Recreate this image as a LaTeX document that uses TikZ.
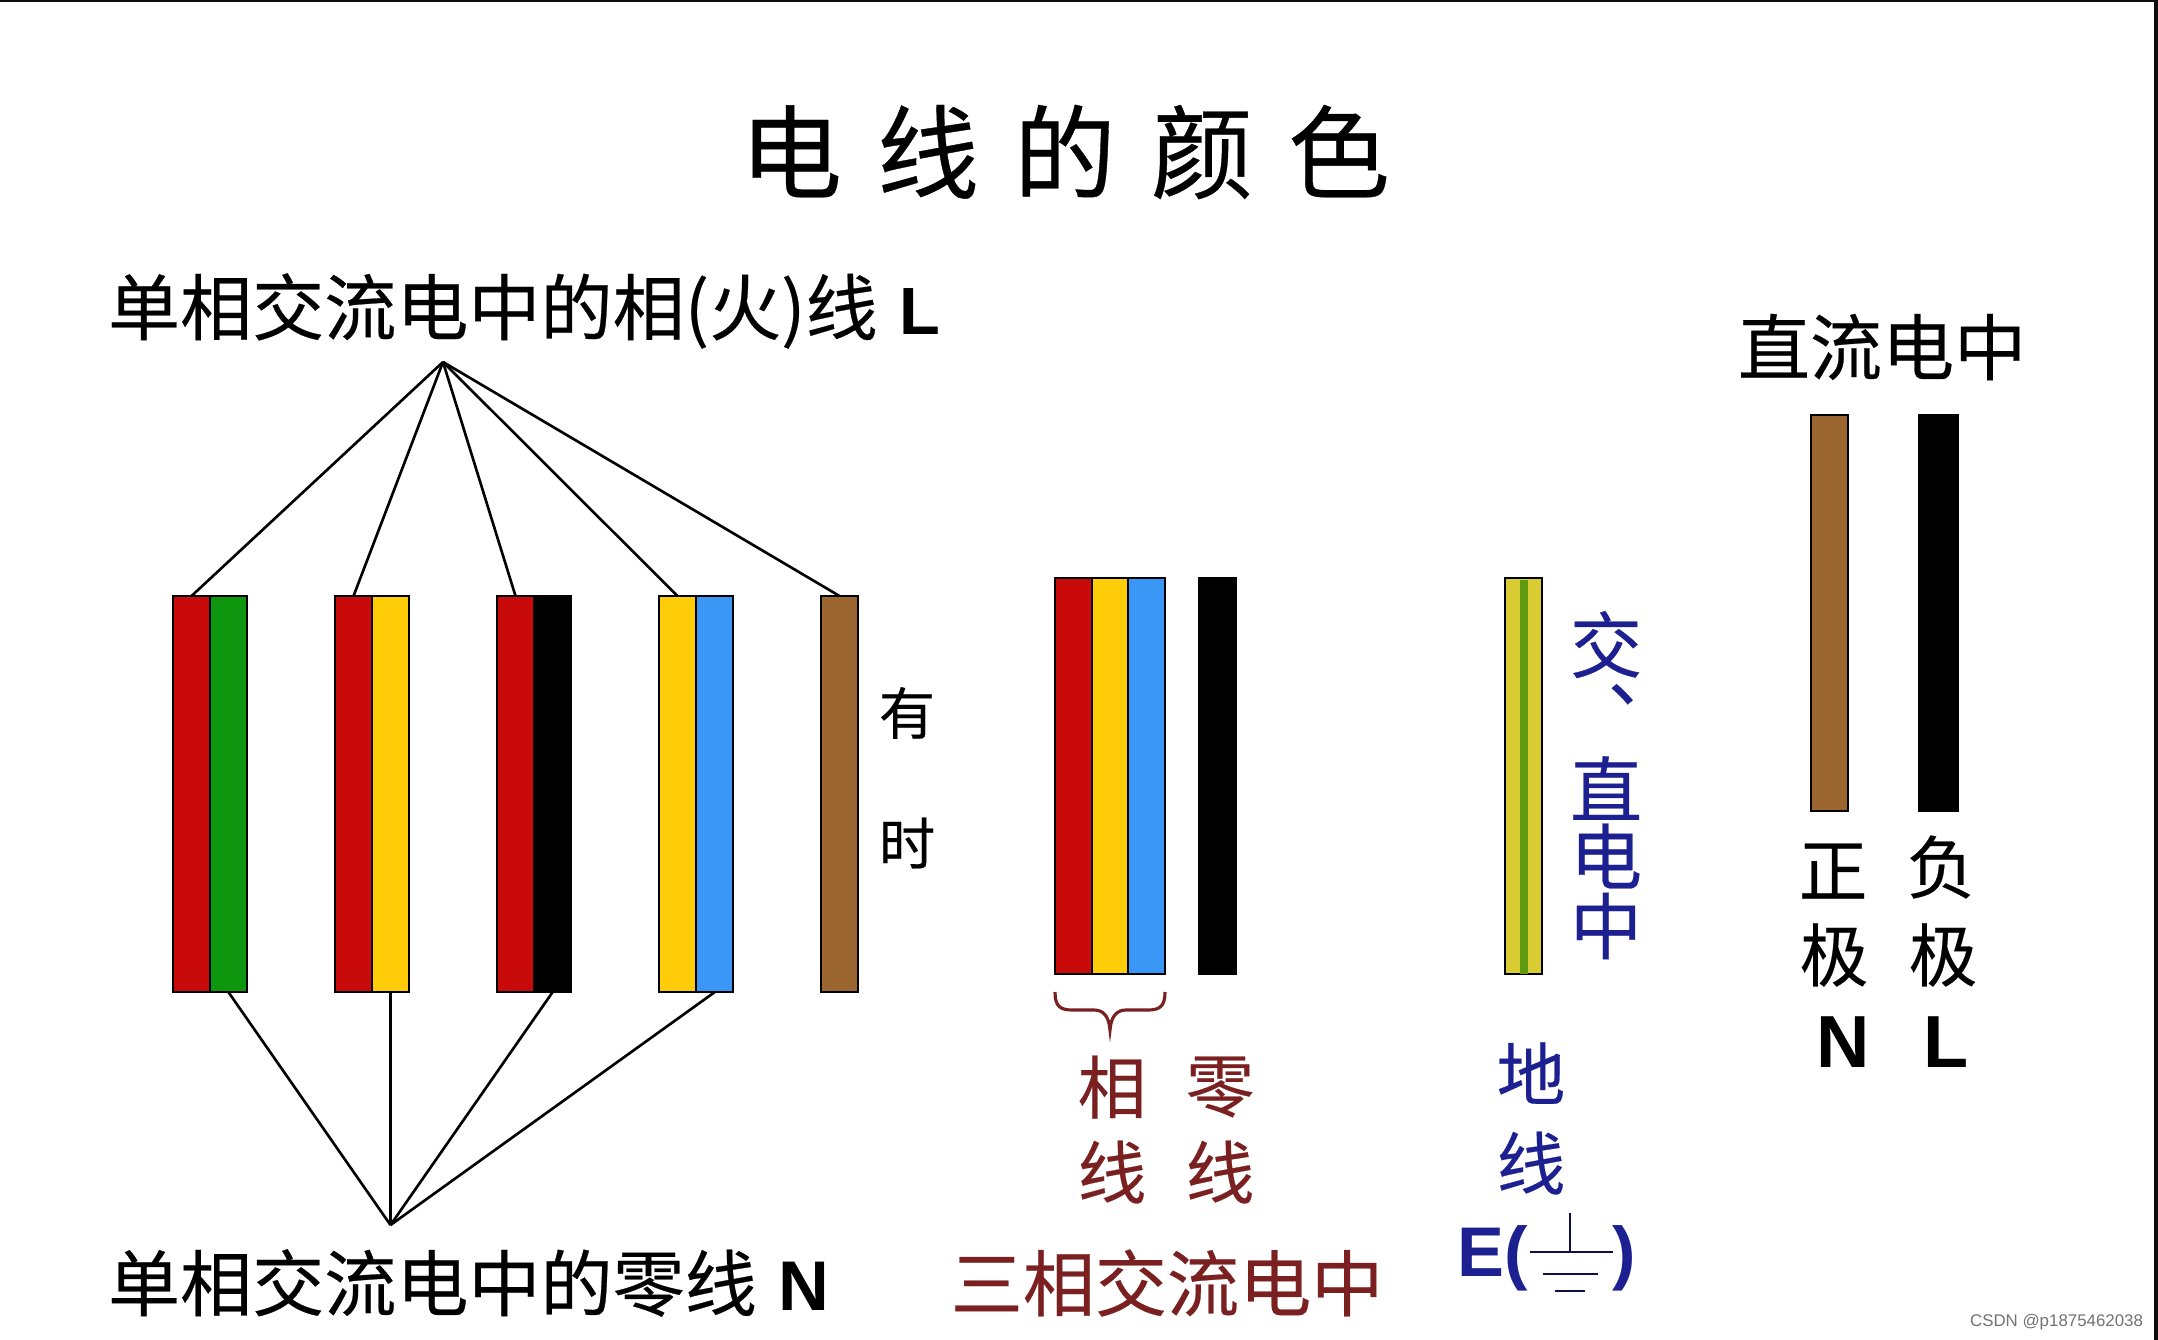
\documentclass[tikz,border=0pt]{standalone}
\usepackage{fontspec}
\setmainfont[FakeBold=0.35]{Noto Sans CJK SC}
\setsansfont{Liberation Sans}
\usepackage{xcolor}

\definecolor{wirered}{HTML}{C80A0A}
\definecolor{wiregreen}{HTML}{0F960F}
\definecolor{wireyellow}{HTML}{FFCC08}
\definecolor{wireblue}{HTML}{3A97F5}
\definecolor{wirebrown}{HTML}{9C6630}
\definecolor{earthyellow}{HTML}{D9CC33}
\definecolor{earthgreen}{HTML}{5E9A10}
\definecolor{labelred}{HTML}{7A2020}
\definecolor{labelblue}{HTML}{1C2090}

\tikzset{
    wire/.style={draw=black, line width=0.7pt, anchor=north west, inner sep=0pt, outer sep=0pt, minimum width=0.37cm, minimum height=3.96cm},
    label/.style={inner sep=0pt, outer sep=0pt},
    big/.style={label, font=\fontsize{20.5}{22}\selectfont},
    small/.style={label, font=\fontsize{19.5}{21}\selectfont},
    blue/.style={label, labelblue, font=\fontsize{20.5}{22}\selectfont},
    lead/.style={black, line width=0.75pt},
    ground/.style={labelblue!50!black, line width=0.7pt}
}
\newcommand{\latin}[2]{{\sffamily\bfseries\fontsize{#1}{#1}\selectfont #2}}

\begin{document}
\begin{tikzpicture}[x=0.01cm, y=-0.01cm]
        \useasboundingbox (0, 0) rectangle (2158, 1340);

        % Frame on the top and right edges
        \fill[black!95] (0, 0) rectangle (2158, 2.5);
        \fill[black!95] (2154, 0) rectangle (2158, 1340);

        % Title
        \node[label] (Title) at (1065, 152) {\fontsize{29}{30}\selectfont 电\hspace{3.5mm}线\hspace{3.5mm}的\hspace{3.5mm}颜\hspace{3.5mm}色};

        % Single phase headings
        \node[big, anchor=west] (PhaseHead) at (108, 311) {单相交流电中的相(火)线\hspace{2.2mm}\latin{19}{L}};
        \node[big, anchor=west] (ZeroHead) at (108, 1283) {单相交流电中的零线\hspace{2.2mm}\latin{20}{N}};

        % Single phase wires, two stripes each
        \node[wire, fill=wirered] (R1) at (173, 596) {};
        \node[wire, fill=wiregreen] (G1) at (210, 596) {};
        \node[wire, fill=wirered] (R2) at (335, 596) {};
        \node[wire, fill=wireyellow] (Y2) at (372, 596) {};
        \node[wire, fill=wirered] (R3) at (497, 596) {};
        \node[wire, fill=black] (K3) at (534, 596) {};
        \node[wire, fill=wireyellow] (Y4) at (659, 596) {};
        \node[wire, fill=wireblue] (B4) at (696, 596) {};
        \node[wire, fill=wirebrown] (B5) at (821, 596) {};

        % Meeting points of the leads
        \coordinate (TopApex) at (443, 362);
        \coordinate (BottomApex) at (390.5, 1225);

        % Leads up to the phase heading
        \draw[lead] (TopApex) -- (R1.north);
        \draw[lead] (TopApex) -- (R2.north);
        \draw[lead] (TopApex) -- (R3.north);
        \draw[lead] (TopApex) -- (Y4.north);
        \draw[lead] (TopApex) -- (B5.north);

        % Leads down to the neutral heading
        \draw[lead] (BottomApex) -- (G1.south);
        \draw[lead] (BottomApex) -- (Y2.south);
        \draw[lead] (BottomApex) -- (K3.south);
        \draw[lead] (BottomApex) -- (B4.south);

        % Side note of the brown wire
        \node[label, font=\fontsize{16}{18}\selectfont] (Sometimes1) at (907, 713) {有};
        \node[label, font=\fontsize{16}{18}\selectfont] (Sometimes2) at (907, 843) {时};

        % Three phase wires
        \node[wire, fill=wirered] (TR) at (1055, 578) {};
        \node[wire, fill=wireyellow] (TY) at (1092, 578) {};
        \node[wire, fill=wireblue] (TB) at (1128, 578) {};
        \node[wire, fill=black] (TN) at (1199, 578) {};

        % Brace under the phase wires
        \draw[labelred, line width=0.9pt] (1055, 992) .. controls (1055, 1006) and (1060, 1010) .. (1072, 1010) -- (1094, 1010) .. controls (1103, 1010) and (1109, 1016) .. (1110, 1030) .. controls (1111, 1016) and (1117, 1010) .. (1126, 1010) -- (1148, 1010) .. controls (1160, 1010) and (1165, 1006) .. (1165, 992);

        % Three phase labels
        \node[small, labelred] (PhaseA) at (1112, 1087) {相};
        \node[small, labelred] (PhaseB) at (1112, 1172) {线};
        \node[small, labelred] (ZeroA) at (1220, 1087) {零};
        \node[small, labelred] (ZeroB) at (1220, 1172) {线};
        \node[big, labelred] (ThreeHead) at (1167, 1283) {三相交流电中};

        % Earth wire
        \node[wire, fill=earthyellow] (Earth) at (1505, 578) {};
        \fill[earthgreen] (1520, 580) rectangle (1528, 974);

        % Labels of the earth wire
        \node[blue, anchor=north west, align=left, font=\fontsize{20.5}{16}\selectfont] (Ac) at (1570, 611) {交\\[-8pt]\hspace{3.8mm}、};
        \node[blue] (DcA) at (1606, 788) {直};
        \node[blue] (DcB) at (1606, 856) {电};
        \node[blue] (DcC) at (1606, 926) {中};
        \node[small, labelblue] (EarthA) at (1531, 1073) {地};
        \node[small, labelblue] (EarthB) at (1531, 1163) {线};
        \node[label, labelblue, anchor=east] (EarthE) at (1528, 1258) {\latin{20}{E(}};
        \node[label, labelblue, anchor=west] (EarthClose) at (1612, 1258) {\latin{20}{)}};

        % Ground symbol
        \coordinate (GroundTop) at (1570, 1213);
        \coordinate (GroundMid) at (1570, 1252);
        \draw[ground] (GroundTop) -- (GroundMid);
        \draw[ground] (1530, 1252) -- (1613, 1252);
        \draw[ground] (1543, 1274) -- (1598, 1274);
        \draw[ground] (1555, 1291) -- (1585, 1291);

        % Direct current part
        \node[big] (DcHead) at (1882, 347) {直流电中};
        \node[wire, fill=wirebrown] (DcPos) at (1811, 415) {};
        \node[wire, fill=black, minimum width=0.39cm] (DcNeg) at (1919, 415) {};
        \node[small] (PosA) at (1833, 871) {正};
        \node[small] (PosB) at (1834, 955) {极};
        \node[small] (NegA) at (1941, 867) {负};
        \node[small] (NegB) at (1943, 955) {极};
        \node[label] (PosN) at (1843, 1042) {\latin{21}{N}};
        \node[label] (NegL) at (1946, 1042) {\latin{21}{L}};

        % Watermark
        \node[label, anchor=east, text=black!55] (Mark) at (2143, 1322) {\sffamily\fontsize{4.8}{6}\selectfont CSDN @p1875462038};
\end{tikzpicture}
\end{document}
